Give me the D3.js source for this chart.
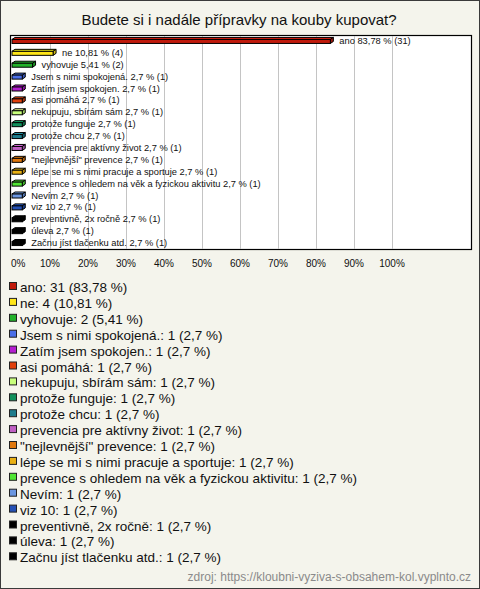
<!DOCTYPE html>
<html><head><meta charset="utf-8">
<script src="https://cdn.jsdelivr.net/npm/d3@7"></script>
<style>
html,body{margin:0;padding:0;background:#fff;}
svg{display:block;font-family:"Liberation Sans",Arial,sans-serif;}
</style></head>
<body>
<script>
const title = "Budete si i nadále přípravky na kouby kupovat?";
const categories = ["ano","ne","vyhovuje","Jsem s nimi spokojená.","Zatím jsem spokojen.","asi pomáhá","nekupuju, sbírám sám","protože funguje","protože chcu","prevencia pre aktívny život","\"nejlevnější\" prevence","lépe se mi s nimi pracuje a sportuje","prevence s ohledem na věk a fyzickou aktivitu","Nevím","viz 10","preventivně, 2x ročně","úleva","Začnu jíst tlačenku atd."];
const counts = [31,4,2,1,1,1,1,1,1,1,1,1,1,1,1,1,1,1];
const percents = [83.78,10.81,5.41,2.7,2.7,2.7,2.7,2.7,2.7,2.7,2.7,2.7,2.7,2.7,2.7,2.7,2.7,2.7];
const colors = ["#c01a0c","#ffe619","#22b22a","#4a6fe8","#b41ed0","#e0400c","#c8ff7c","#10905c","#1e7c8c","#c060c4","#e0780e","#e8b014","#50e634","#6a96e0","#2450b4","#000000","#000000","#000000"];
const tickValues = [0,10,20,30,40,50,60,70,80,90,100];
const source = "zdroj: https://kloubni-vyziva-s-obsahem-kol.vyplnto.cz";

const W = 480, H = 589;
const fmt = v => String(v).replace(".", ",");
const svg = d3.select("body").append("svg").attr("width", W).attr("height", H);

svg.append("rect").attr("x",0.5).attr("y",0.5).attr("width",W-1).attr("height",H-1)
  .attr("fill","#f4f4ec").attr("stroke","#3a3a3a");

svg.append("text").attr("x",239).attr("y",25).attr("text-anchor","middle")
  .attr("font-size",15).attr("fill","#111").text(title);

const box = {x0:10, x1:471, y0:35, y1:249};
const x = d3.scaleLinear().domain([0,100]).range([12, 392]);
const y = d3.scaleBand().domain(d3.range(categories.length)).range([box.y0, box.y1]);

svg.append("rect").attr("x",box.x0+0.5).attr("y",box.y0+0.5)
  .attr("width",box.x1-box.x0).attr("height",box.y1-box.y0)
  .attr("fill","#fff").attr("stroke","#000").attr("stroke-width",1.2);

svg.append("g").selectAll("line").data(tickValues.filter(d=>d>0)).join("line")
  .attr("x1",d=>Math.round(x(d))+0.5).attr("x2",d=>Math.round(x(d))+0.5)
  .attr("y1",box.y0+1).attr("y2",box.y1)
  .attr("stroke","#c4c4c4");

svg.append("g").selectAll("text").data(tickValues).join("text")
  .attr("x",d=> d===0 ? 11 : x(d)).attr("y",267)
  .attr("text-anchor",d=> d===0 ? "start" : "middle")
  .attr("font-size",10).attr("fill","#111").text(d=>d+"%");

const dx = 3, dy = 2, bh = 4;
const bars = svg.append("g").selectAll("g").data(categories).join("g");
bars.each(function(c,i){
  const g = d3.select(this);
  const cy = y(i) + y.bandwidth()/2;
  const x0 = x(0), x1 = x(percents[i]);
  const top = cy - bh/2 + 0.5, bot = top + bh;
  const col = d3.color(colors[i]);
  const light = colors[i]==="#000000" ? "#000" : col.brighter(0.5);
  const dark = colors[i]==="#000000" ? "#000" : col.darker(0.6);
  g.append("path").attr("d",`M${x0},${top}L${x0+dx},${top-dy}L${x1+dx},${top-dy}L${x1},${top}Z`)
    .attr("fill",light).attr("stroke","#000").attr("stroke-width",1).attr("stroke-linejoin","round");
  g.append("path").attr("d",`M${x1},${top}L${x1+dx},${top-dy}L${x1+dx},${bot-dy}L${x1},${bot}Z`)
    .attr("fill",dark).attr("stroke","#000").attr("stroke-width",1).attr("stroke-linejoin","round");
  g.append("rect").attr("x",x0).attr("y",top).attr("width",x1-x0).attr("height",bh)
    .attr("fill",colors[i]).attr("stroke","#000").attr("stroke-width",1);
  g.append("text").attr("x",x1+dx+6).attr("y",cy+3).attr("font-size",9.3).attr("fill","#111")
    .text(`${c} ${fmt(percents[i])} % (${counts[i]})`);
});

const ly0 = 287, lstep = 15.9;
const leg = svg.append("g").selectAll("g").data(categories).join("g")
  .attr("transform",(d,i)=>`translate(0,${ly0 + i*lstep})`);
leg.append("rect").attr("x",9.5).attr("y",-4.5).attr("width",7).attr("height",7)
  .attr("fill",(d,i)=>colors[i]).attr("stroke","#222");
leg.append("text").attr("x",20).attr("y",5).attr("font-size",13.5).attr("fill","#111")
  .text((d,i)=>`${d}: ${counts[i]} (${fmt(percents[i])} %)`);

svg.append("text").attr("x",471).attr("y",581).attr("text-anchor","end")
  .attr("font-size",12).attr("fill","#8a8a8a").text(source);
</script>
</body></html>
